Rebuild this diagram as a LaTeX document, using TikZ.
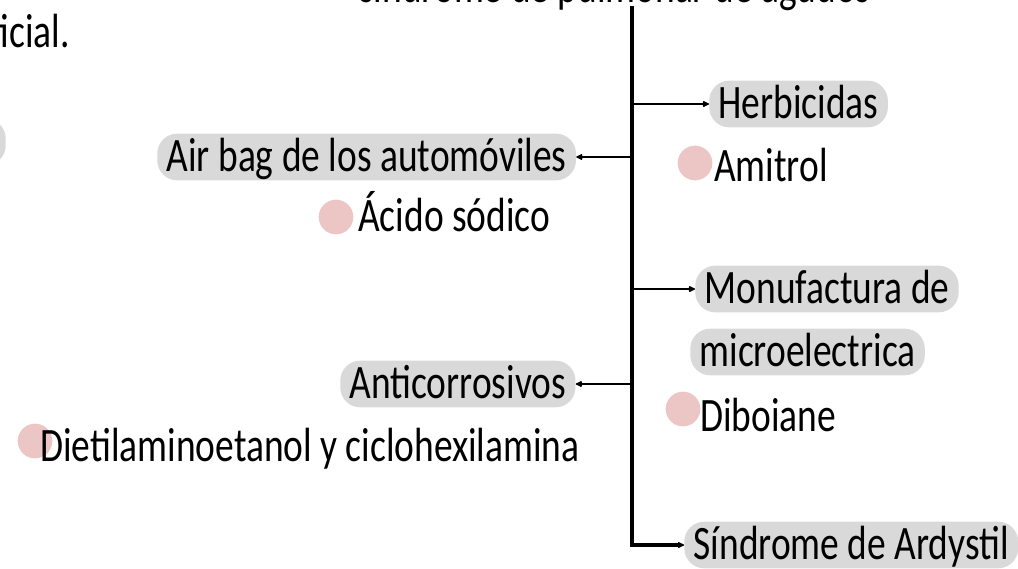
\documentclass[tikz,border=0pt]{standalone}
\usepackage{fontspec}
\setmainfont{Carlito}[FakeStretch=0.78]
\usetikzlibrary{arrows.meta}
\definecolor{hlgray}{HTML}{D9D9D9}
\definecolor{dotpink}{HTML}{ECC5C5}
\begin{document}
\begin{tikzpicture}[x=0.75pt,y=-0.75pt,
  txt/.style={font=\fontsize{36}{42}\selectfont, inner sep=0pt, anchor=west, text height=25pt, text depth=4pt},
  hl/.style={txt, fill=hlgray, rounded corners=15pt, inner xsep=7pt, inner ysep=3pt},
  dot/.style={circle, fill=dotpink, minimum size=26pt, inner sep=0pt},
  trunk/.style={line width=2.6pt},
  tip/.style={-{Latex[length=6pt,width=5.5pt,round]}},
  br/.style={line width=1.9pt, tip}]
\useasboundingbox (0,0) rectangle (1018,568);
\clip (0,0) rectangle (1018,568);
% clipped text at the page edges
\node[txt, anchor=east] (art) at (70,33) {artificial.};
\node[txt, anchor=center] (top) at (615,-12) {síndrome de pulmonar de agudos};
\node[hl, anchor=east, minimum height=28pt] (leftblob) at (6,142) {\phantom{x}};
% right side
\node[hl] (herb) at (709,104) {Herbicidas\hspace{20pt}};
\node[dot] (d1) at (695,163) {};
\node[txt] (amit) at (714,167) {Amitrol};
\node[hl] (monu) at (695,289) {Monufactura de};
\node[hl] (micro) at (690,352) {microelectrica};
\node[dot] (d3) at (683,409) {};
\node[txt] (dibo) at (700,417) {Diboiane};
\node[hl] (sind) at (684,545) {Síndrome de Ardystil};
% left side
\node[hl] (air) at (157,157) {Air bag de los automóviles};
\node[dot] (d2) at (336,217) {};
\node[txt] (acid) at (358,217) {Ácido sódico};
\node[hl] (anti) at (340,384) {Anticorrosivos};
\node[dot] (d4) at (35,441) {};
\node[txt] (diet) at (40,447) {Dietilaminoetanol y ciclohexilamina};
% connectors
\coordinate (trtop) at (632,6);
\draw[trunk, tip] (trtop) |- (sind.west);
\draw[br] (trtop |- herb.west) -- (herb.west);
\draw[br] (trtop |- monu.west) -- (monu.west);
\draw[br] (trtop |- air.east) -- (air.east);
\draw[br] (trtop |- anti.east) -- (anti.east);
\end{tikzpicture}
\end{document}
